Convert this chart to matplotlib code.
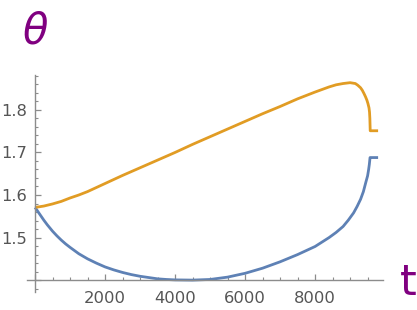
import numpy as np
from matplotlib import pyplot as plt
from matplotlib.ticker import FixedLocator, MultipleLocator

# values
t_upper = [0, 250, 500, 750, 1000, 1250, 1500, 2000, 2500, 3000, 3500, 4000,
           4500, 5000, 5500, 6000, 6500, 7000, 7500, 8000, 8200, 8400, 8600,
           8800, 9000, 9150, 9220, 9300, 9350, 9400, 9440, 9480, 9510, 9540,
           9555, 9565, 9570, 9575, 9800]
theta_upper = [1.5708, 1.574, 1.579, 1.585, 1.593, 1.600, 1.608, 1.627, 1.646,
               1.664, 1.682, 1.700, 1.719, 1.737, 1.755, 1.773, 1.791, 1.808,
               1.826, 1.842, 1.848, 1.854, 1.859, 1.862, 1.864, 1.862, 1.858,
               1.852, 1.846, 1.838, 1.831, 1.823, 1.815, 1.805, 1.795, 1.780,
               1.765, 1.751, 1.751]

t_lower = [0, 50, 100, 150, 250, 350, 500, 625, 750, 875, 1000, 1250, 1500,
           1750, 2000, 2250, 2500, 2750, 3000, 3250, 3500, 3750, 4000, 4500,
           5000, 5500, 6000, 6500, 7000, 7500, 8000, 8400, 8600, 8800, 8950,
           9100, 9200, 9300, 9380, 9450, 9500, 9530, 9550, 9565, 9570, 9800]
theta_lower = [1.5708, 1.565, 1.559, 1.553, 1.541, 1.530, 1.515, 1.504, 1.494,
               1.485, 1.477, 1.462, 1.450, 1.440, 1.431, 1.424, 1.418, 1.413,
               1.409, 1.406, 1.403, 1.4015, 1.4005, 1.400, 1.4015, 1.407,
               1.416, 1.428, 1.443, 1.460, 1.479, 1.500, 1.512, 1.526, 1.541,
               1.558, 1.573, 1.590, 1.608, 1.630, 1.645, 1.660, 1.672, 1.684,
               1.688, 1.688]

x_major = [0, 2000, 4000, 6000, 8000]
x_labels = ['', '2000', '4000', '6000', '8000']
y_major = [1.4, 1.5, 1.6, 1.7, 1.8]
y_labels = ['', '1.5', '1.6', '1.7', '1.8']

blue = '#5e81b5'
orange = '#e19c24'
axis_col = '#8c8c8c'
label_col = '#555555'
purple = '#800080'

fig = plt.figure(figsize=(4.17, 3.10), dpi=100)
ax = fig.add_axes([0.0647, 0.058, 0.854, 0.70])

ax.plot(t_lower, theta_lower, color=blue, lw=2.0, solid_capstyle='butt',
        solid_joinstyle='round')
ax.plot(t_upper, theta_upper, color=orange, lw=2.0, solid_capstyle='butt',
        solid_joinstyle='round')

ax.set_xlim(-230, 9943)
ax.set_ylim(1.372, 1.882)

# axes cross at (0, 1.4) like Mathematica
ax.spines['left'].set_position(('data', 0))
ax.spines['bottom'].set_position(('data', 1.4))
ax.spines['right'].set_visible(False)
ax.spines['top'].set_visible(False)
for s in ['left', 'bottom']:
    ax.spines[s].set_color(axis_col)
    ax.spines[s].set_linewidth(1.0)

ax.xaxis.set_major_locator(FixedLocator(x_major))
ax.set_xticklabels(x_labels)
ax.xaxis.set_minor_locator(MultipleLocator(500))
ax.yaxis.set_major_locator(FixedLocator(y_major))
ax.set_yticklabels(y_labels)
ax.yaxis.set_minor_locator(MultipleLocator(0.02))

ax.tick_params(which='major', direction='in', length=4.5, width=0.9,
               color=axis_col, labelcolor=label_col, labelsize=11.8)
ax.tick_params(which='minor', direction='in', length=2.5, width=0.8,
               color=axis_col)
ax.tick_params(axis='x', which='major', pad=8)
ax.tick_params(axis='y', which='major', pad=5.5)

fig.text(35 / 417, 1 - 32 / 310, r'$\theta$', color=purple, fontsize=30,
         ha='center', va='center')
fig.text(408 / 417, 1 - 283 / 310, 't', color=purple, fontsize=31,
         ha='center', va='center')

fig.savefig('out.png', dpi=100)
